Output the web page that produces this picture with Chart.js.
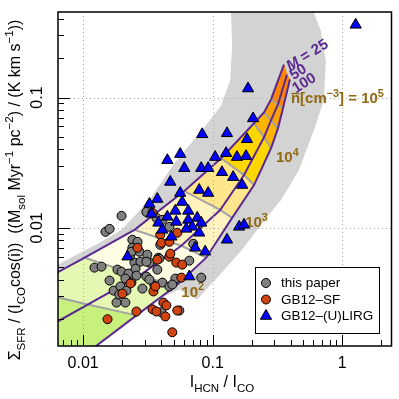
<!DOCTYPE html>
<html><head><meta charset="utf-8">
<script src="https://cdn.jsdelivr.net/npm/chart.js@4.4.1/dist/chart.umd.min.js"></script>
<style>html,body{margin:0;padding:0;background:#fff;}canvas{display:block;}</style>
</head><body>
<canvas id="c" width="399" height="399"></canvas>
<script>
// ---------------- data ----------------
const xAxisRange = [0.0064, 2.40];
const yAxisRange = [0.00124, 0.453];
const xMajorTicks = [0.01, 0.1, 1];
const xMinorTicks = [0.007,0.008,0.009,0.02,0.03,0.04,0.05,0.06,0.07,0.08,0.09,0.2,0.3,0.4,0.5,0.6,0.7,0.8,0.9,2];
const yMajorTicks = [0.01, 0.1];
const yMinorTicks = [0.002,0.003,0.004,0.005,0.006,0.007,0.008,0.009,0.02,0.03,0.04,0.05,0.06,0.07,0.08,0.09,0.2,0.3,0.4];

const thisPaperX = [0.0198,0.01489,0.0160,0.0308,0.0368,0.0409,0.0463,0.0240,0.0263,0.0240,0.0232,0.0272,0.0381,0.0394,0.0249,0.0277,0.0325,0.0374,0.0388,0.066,0.0708,0.01224,0.01387,0.0184,0.0198,0.0224,0.0254,0.0258,0.0308,0.0212,0.0236,0.0160,0.01718,0.0194,0.0287,0.0355,0.0409,0.0463,0.0515,0.0816,0.0212,0.01811,0.0402,0.0553,0.0313,0.0488,0.0308,0.0325,0.0216,0.0190,0.0236];
const thisPaperY = [0.01236,0.00932,0.00982,0.01324,0.01192,0.01151,0.01018,0.0081,0.00781,0.00703,0.00622,0.00656,0.0059,0.00741,0.00541,0.0055,0.00541,0.00478,0.0058,0.0056,0.00755,0.00495,0.00504,0.00478,0.00461,0.00446,0.00486,0.0043,0.00423,0.00408,0.0038,0.00394,0.0033,0.00355,0.00342,0.00361,0.0038,0.00355,0.00408,0.00415,0.00267,0.00267,0.00225,0.00232,0.00622,0.00367,0.0055,0.00401,0.0033,0.00308,0.00656];

const gb12sfX = [0.0263,0.0343,0.0394,0.0402,0.0463,0.0533,0.0374,0.0463,0.0524,0.0582,0.0471,0.0201,0.0232,0.0349,0.0361,0.0258,0.01543,0.0343,0.0368,0.0416,0.0439,0.0431,0.0573,0.0488,0.0533];
const gb12sfY = [0.00703,0.01303,0.00885,0.00767,0.00781,0.00916,0.0057,0.00601,0.00541,0.00522,0.00634,0.00313,0.00374,0.00325,0.00355,0.00228,0.00199,0.00237,0.00228,0.00267,0.00254,0.00209,0.00415,0.00158,0.00232];

const gb12lirgX = [1.27,0.1875,0.205,0.083,0.129,0.184,0.0447,0.0562,0.1045,0.127,0.154,0.181,0.0604,0.0816,0.0923,0.118,0.144,0.169,0.0471,0.0562,0.0787,0.0923,0.0374,0.0325,0.0582,0.0337,0.0447,0.0515,0.0648,0.0381,0.0524,0.0648,0.076,0.0816,0.0695,0.0409,0.0625,0.0787,0.048,0.16,0.1746,0.129,0.0733,0.0875,0.022,0.066];
const gb12lirgY = [0.361,0.1172,0.0691,0.0522,0.0531,0.0478,0.0330,0.0368,0.0349,0.0374,0.0349,0.0355,0.0287,0.0287,0.0287,0.0267,0.0245,0.0213,0.0225,0.0185,0.0195,0.0185,0.01664,0.01524,0.01578,0.0128,0.01214,0.01349,0.01349,0.01092,0.01111,0.01151,0.01192,0.01092,0.01018,0.00966,0.00982,0.00916,0.00854,0.01018,0.01054,0.0081,0.00703,0.00656,0.00601,0.00423];

// model grid: nodes at mean density 10^1 ... 10^5.5 cm^-3 for Mach 25, 50, 100
const densityExponents = [1,1.5,2,2.5,3,3.5,4,4.5,5,5.5];
const machNumbers = [25, 50, 100];
const modelM25X = [0.0016,0.00361,0.01028,0.0249,0.0604,0.1162,0.2086,0.249,0.2818,0.3548];
const modelM25Y = [0.00217,0.00336,0.0059,0.00966,0.01914,0.0342,0.0634,0.0768,0.0966,0.1786];
const modelM50X = [0.00388,0.01084,0.0272,0.0573,0.1142,0.1746,0.249,0.2818,0.319,0.3742];
const modelM50Y = [0.00145,0.00258,0.0043,0.00729,0.01371,0.0254,0.0495,0.0667,0.0885,0.1499];
const modelM100X = [0.00861,0.0258,0.0524,0.0891,0.1413,0.2086,0.2818,0.319,0.3485,0.3945];
const modelM100Y = [0.00093,0.00213,0.00361,0.0059,0.01192,0.0213,0.0408,0.058,0.0824,0.1372];

// broad grey envelope
const bandX = [0.00228,0.00637,0.0134,0.0198,0.0325,0.0506,0.0861,0.1162,0.1364,0.1413,0.1387,0.1364,0.552,0.604,0.684,0.747,0.721,0.604,0.4627,0.3365,0.236,0.1687,0.1122,0.076,0.0553,0.0388,0.0258,0.00861,0.00134,0.00134];
const bandY = [0.00308,0.00522,0.00767,0.00966,0.01636,0.0313,0.059,0.0869,0.1349,0.2494,0.4457,0.782,0.782,0.4457,0.3246,0.1916,0.0949,0.056,0.0277,0.01636,0.01054,0.00679,0.0043,0.00282,0.00336,0.00287,0.00213,0.00093,0.00093,0.00237];

// ---------------- styles ----------------
const FONT = "'Liberation Sans', Arial, Helvetica, sans-serif";
const cellColors = ['#c8f07c','#e4f8b4','#fffde4','#fff3c0','#ffe68c','#ffd700','#ffb400','#ffa200','#ff8400'];
const purple = '#5b2a91';
const brown = '#8f6a12';

const pts = (xs, ys) => xs.map((x, i) => ({x, y: ys[i]}));
const lines = [pts(modelM25X, modelM25Y), pts(modelM50X, modelM50Y), pts(modelM100X, modelM100Y)];

const datasets = [];
datasets.push({type:'line', data: pts(bandX, bandY), fill:'shape', backgroundColor:'#d3d3d3',
  borderColor:'rgba(0,0,0,0)', borderWidth:0, pointRadius:0, tension:0, order:100, clip:0});
for (let j = 0; j < 2; j++) {
  for (let k = 0; k < densityExponents.length - 1; k++) {
    const quad = [lines[j][k], lines[j][k+1], lines[j+1][k+1], lines[j+1][k], lines[j][k]];
    datasets.push({type:'line', data: quad, fill:'shape', backgroundColor: cellColors[k],
      borderColor: cellColors[k], borderWidth: 0.8, pointRadius:0, tension:0, order:90, clip:0});
  }
}
for (let k = 1; k < densityExponents.length - 1; k++) {
  datasets.push({type:'line', data: [lines[0][k], lines[1][k], lines[2][k]], fill:false,
    borderColor:'#a3a3a3', borderWidth:2, pointRadius:0, tension:0, order:80, clip:0});
}
machNumbers.forEach((m, j) => {
  datasets.push({type:'line', data: lines[j], fill:false, borderColor: purple, borderWidth:2,
    pointRadius:0, tension:0, order:72 - j, clip:0, _gridAfter: j === 2});
});
datasets.push({type:'scatter', label:'this paper', data: pts(thisPaperX, thisPaperY), pointStyle:'circle',
  pointRadius:4.5, pointBackgroundColor:'#808080', pointBorderColor:'#000', pointBorderWidth:1, order:3});
datasets.push({type:'scatter', label:'GB12\u2013SF', data: pts(gb12sfX, gb12sfY), pointStyle:'circle',
  pointRadius:4.5, pointBackgroundColor:'#cf4410', pointBorderColor:'#000', pointBorderWidth:1, order:2});
datasets.push({type:'scatter', label:'GB12\u2013(U)LIRG', data: pts(gb12lirgX, gb12lirgY), pointStyle:'triangle',
  pointRadius:6.5, pointBackgroundColor:'#0000ff', pointBorderColor:'#000', pointBorderWidth:1, order:1});

// ---------------- rich text helpers ----------------
function segFont(seg, size, weight) {
  const sz = seg.s ? size * 0.72 : size;
  return (seg.i ? 'italic ' : '') + (weight || 'normal') + ' ' + sz + 'px ' + FONT;
}
function richWidth(c, segs, size, weight) {
  let w = 0;
  for (const s of segs) { c.font = segFont(s, size, weight); w += c.measureText(s.t).width; }
  return w;
}
function drawRich(c, segs, x, y, size, color, weight) {
  c.fillStyle = color; c.textBaseline = 'alphabetic'; c.textAlign = 'left';
  let cx = x;
  for (const s of segs) {
    c.font = segFont(s, size, weight);
    const dy = s.s === -1 ? size * 0.3 : (s.s === 1 ? -size * 0.42 : 0);
    c.fillText(s.t, cx, y + dy);
    const w = c.measureText(s.t).width;
    if (s.bar) {
      c.save(); c.strokeStyle = color; c.lineWidth = 1.4; c.beginPath();
      c.moveTo(cx + 0.5, y - size * 0.66); c.lineTo(cx + w - 0.5, y - size * 0.66); c.stroke(); c.restore();
    }
    cx += w;
  }
  return cx - x;
}

const yTitle = [{t:'\u03A3'},{t:'SFR',s:-1},{t:' / (I'},{t:'CO',s:-1},{t:'cos(i))  ((M'},{t:'sol',s:-1},{t:' Myr'},{t:'\u22121',s:1},{t:' pc'},{t:'\u22122',s:1},{t:') / (K km s'},{t:'\u22121',s:1},{t:'))'}];
const xTitle = [{t:'I'},{t:'HCN',s:-1},{t:' / I'},{t:'CO',s:-1}];
const densityLabels = [
  {node:2, dx:5, dy:11, segs:[{t:'10'},{t:'2',s:1}]},
  {node:4, dx:13, dy:9, segs:[{t:'10'},{t:'3',s:1}]},
  {node:6, dx:5, dy:14, segs:[{t:'10'},{t:'4',s:1}]},
  {node:8, dx:8, dy:-5, segs:[{t:'n',bar:true},{t:'[cm'},{t:'\u22123',s:1},{t:'] = 10'},{t:'5',s:1}]}
];
const machLabels = [
  {line:0, dx:23, dy:-10, segs:[{t:'M',i:true},{t:' = 25'}]},
  {line:1, dx:11, dy:-3, segs:[{t:'50'}]},
  {line:2, dx:14, dy:3, segs:[{t:'100'}]}
];
const legendItems = [
  {label:'this paper', style:'circle', color:'#808080'},
  {label:'GB12\u2013SF', style:'circle', color:'#cf4410'},
  {label:'GB12\u2013(U)LIRG', style:'triangle', color:'#0000ff'}
];

function drawSymbol(c, style, color, x, y) {
  c.save(); c.fillStyle = color; c.strokeStyle = '#000'; c.lineWidth = 1; c.beginPath();
  if (style === 'circle') { c.arc(x, y, 4.5, 0, Math.PI * 2); }
  else { const r = 6.5; c.moveTo(x, y - r); c.lineTo(x + r * 0.866, y + r * 0.5); c.lineTo(x - r * 0.866, y + r * 0.5); c.closePath(); }
  c.fill(); c.stroke(); c.restore();
}

const decor = {
  id: 'decor',
  afterDatasetDraw(chart, args) {
    const ds = chart.data.datasets[args.index];
    if (!ds._gridAfter) return;
    const c = chart.ctx, a = chart.chartArea, xs = chart.scales.x, ys = chart.scales.y;
    c.save();
    c.beginPath(); c.rect(a.left, a.top, a.right - a.left, a.bottom - a.top); c.clip();
    c.strokeStyle = '#a8a8a8'; c.lineWidth = 1; c.setLineDash([1, 3]);
    for (const v of xMajorTicks) { const p = Math.round(xs.getPixelForValue(v)) + 0.5; c.beginPath(); c.moveTo(p, a.top); c.lineTo(p, a.bottom); c.stroke(); }
    for (const v of yMajorTicks) { const p = Math.round(ys.getPixelForValue(v)) + 0.5; c.beginPath(); c.moveTo(a.left, p); c.lineTo(a.right, p); c.stroke(); }
    c.setLineDash([]);
    c.restore();
    c.save();
    for (const L of densityLabels) {
      const p = lines[2][L.node];
      const px = xs.getPixelForValue(p.x) + L.dx, py = ys.getPixelForValue(p.y) + L.dy;
      drawRich(c, L.segs, px, py, 15, brown, 'bold');
    }
    for (const L of machLabels) {
      const arr = lines[L.line]; const p = arr[arr.length - 1];
      const px = xs.getPixelForValue(p.x) + L.dx, py = ys.getPixelForValue(p.y) + L.dy;
      c.save(); c.translate(px, py); c.rotate(-32 * Math.PI / 180);
      const w = richWidth(c, L.segs, 15, 'bold');
      drawRich(c, L.segs, -w / 2, 5, 15, purple, 'bold');
      c.restore();
    }
    c.restore();
  },
  afterDraw(chart) {
    const c = chart.ctx, a = chart.chartArea, xs = chart.scales.x, ys = chart.scales.y;
    c.save();
    c.strokeStyle = '#000'; c.lineWidth = 1;
    for (const v of xMajorTicks.concat(xMinorTicks)) {
      const p = Math.round(xs.getPixelForValue(v)) + 0.5;
      const len = xMajorTicks.includes(v) ? 11 : 6;
      c.beginPath(); c.moveTo(p, a.bottom); c.lineTo(p, a.bottom - len); c.stroke();
    }
    for (const v of yMajorTicks.concat(yMinorTicks)) {
      const p = Math.round(ys.getPixelForValue(v)) + 0.5;
      const len = yMajorTicks.includes(v) ? 12 : 6;
      c.beginPath(); c.moveTo(a.left, p); c.lineTo(a.left + len, p); c.stroke();
    }
    c.lineWidth = 1.5;
    c.strokeRect(a.left, a.top, a.right - a.left, a.bottom - a.top);
    // legend
    const lx = 255.5, ly = 267.5, lw = 124, lh = 66;
    c.fillStyle = '#fff'; c.fillRect(lx, ly, lw, lh);
    c.lineWidth = 1; c.strokeRect(lx, ly, lw, lh);
    legendItems.forEach((it, i) => {
      const y = 283 + i * 16.5;
      drawSymbol(c, it.style, it.color, 266, y);
      c.fillStyle = '#000'; c.font = '13.5px ' + FONT; c.textAlign = 'left'; c.textBaseline = 'middle';
      c.fillText(it.label, 281, y + 0.5);
    });
    // axis titles
    c.save(); c.translate(20, 190); c.rotate(-Math.PI / 2);
    const w = richWidth(c, yTitle, 16);
    drawRich(c, yTitle, -w / 2, 0, 16, '#000');
    c.restore();
    const wx = richWidth(c, xTitle, 16);
    drawRich(c, xTitle, 222 - wx / 2, 387, 16, '#000');
    c.restore();
  }
};

const fixScale = (s) => { s.paddingTop = 0; s.paddingBottom = 0; s.paddingLeft = 0; s.paddingRight = 0; };

new Chart(document.getElementById('c').getContext('2d'), {
  type: 'scatter',
  data: { datasets },
  options: {
    responsive: false, animation: false, events: [],
    layout: { padding: { left: 0, right: 6, top: 12, bottom: 0 } },
    plugins: { legend: { display: false }, tooltip: { enabled: false } },
    scales: {
      x: {
        type: 'logarithmic', min: xAxisRange[0], max: xAxisRange[1], position: 'bottom',
        afterBuildTicks: (s) => { s.ticks = xMajorTicks.map(v => ({value: v})); },
        afterFit: (s) => { s.height = 53; fixScale(s); },
        grid: { display: false, drawTicks: false },
        border: { display: false },
        ticks: { color: '#000', font: { family: FONT, size: 16 }, padding: 8, maxRotation: 0, autoSkip: false,
          callback: (v) => String(v) }
      },
      y: {
        type: 'logarithmic', min: yAxisRange[0], max: yAxisRange[1], position: 'left',
        afterBuildTicks: (s) => { s.ticks = yMajorTicks.map(v => ({value: v})); },
        afterFit: (s) => { s.width = 58; fixScale(s); },
        grid: { display: false, drawTicks: false },
        border: { display: false },
        ticks: { color: '#000', font: { family: FONT, size: 16 }, padding: 5, minRotation: 90, maxRotation: 90,
          crossAlign: 'center', autoSkip: false, callback: (v) => String(v) }
      }
    }
  },
  plugins: [decor]
});
</script>
</body></html>
